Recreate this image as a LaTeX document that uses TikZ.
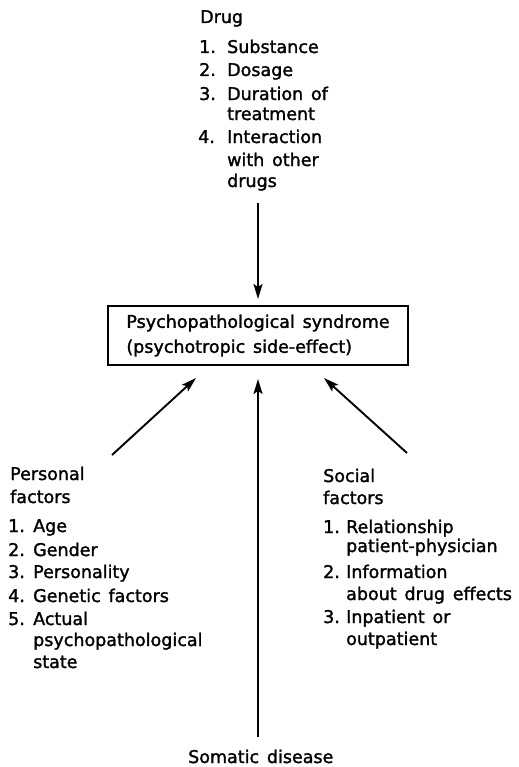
\documentclass[tikz,border=0pt]{standalone}
\usepackage{fontspec}
\setmainfont[FakeBold=1.6,WordSpace=1.4]{DejaVu Sans}
\usetikzlibrary{arrows.meta}
\begin{document}
\begin{tikzpicture}[x=1bp,y=-1bp,
  lbl/.style={anchor=base west,inner sep=0pt,font=\fontsize{17.5bp}{20bp}\selectfont},
  arr/.style={line width=1.9bp,-{Stealth[length=15bp,width=9bp,inset=3bp]}},
  synbox/.style={draw,line width=2bp,minimum width=300bp,minimum height=59bp,inner sep=0pt,align=left,font=\fontsize{17.5bp}{25bp}\selectfont}]
\useasboundingbox (0,0) rectangle (519,767);

% Drug
\node[lbl] (drug) at (200,23) {Drug};
\node[lbl] (d1n) at (199,53) {1.};
\node[lbl] (d1) at (227,53) {Substance};
\node[lbl] (d2n) at (199,76) {2.};
\node[lbl] (d2) at (227,76) {Dosage};
\node[lbl] (d3n) at (199,100) {3.};
\node[lbl] (d3) at (227,100) {Duration of};
\node[lbl] (d3b) at (227,120) {treatment};
\node[lbl] (d4n) at (198,143) {4.};
\node[lbl] (d4) at (227,143) {Interaction};
\node[lbl] (d4b) at (227,166) {with other};
\node[lbl] (d4c) at (227,187) {drugs};

% Box
\node[synbox] (syn) at (258,335.5) {Psychopathological syndrome\\(psychotropic side-effect)};

% Personal
\node[lbl] (pers) at (10,480) {Personal};
\node[lbl] (persb) at (10,503) {factors};
\node[lbl] (p1n) at (8,532) {1.};
\node[lbl] (p1) at (33,532) {Age};
\node[lbl] (p2n) at (8,556) {2.};
\node[lbl] (p2) at (33,556) {Gender};
\node[lbl] (p3n) at (8,578) {3.};
\node[lbl] (p3) at (33,578) {Personality};
\node[lbl] (p4n) at (8,602) {4.};
\node[lbl] (p4) at (33,602) {Genetic factors};
\node[lbl] (p5n) at (8,625) {5.};
\node[lbl] (p5) at (33,625) {Actual};
\node[lbl] (p5b) at (33,646) {psychopathological};
\node[lbl] (p5c) at (33,668) {state};

% Social
\node[lbl] (soc) at (323,482) {Social};
\node[lbl] (socb) at (323,504) {factors};
\node[lbl] (s1n) at (323,533) {1.};
\node[lbl] (s1) at (346,533) {Relationship};
\node[lbl] (s1b) at (346,552) {patient-physician};
\node[lbl] (s2n) at (323,578) {2.};
\node[lbl] (s2) at (346,578) {Information};
\node[lbl] (s2b) at (346,600) {about drug effects};
\node[lbl] (s3n) at (323,623) {3.};
\node[lbl] (s3) at (346,623) {Inpatient or};
\node[lbl] (s3b) at (346,645) {outpatient};

% Somatic
\node[lbl] (som) at (188,763) {Somatic disease};

% Arrow ends
\coordinate (drugTail) at (258,203);
\coordinate (persTail) at (112,455);
\coordinate (persTip) at (196,378);
\coordinate (socTail) at (407,453);
\coordinate (socTip) at (324,378);
\coordinate (somTail) at (258,737);
\coordinate (somTip) at (258,379);

\draw[arr,shorten >=6bp] (drugTail) -- (syn.north);
\draw[arr] (persTail) -- (persTip);
\draw[arr] (socTail) -- (socTip);
\draw[arr] (somTail) -- (somTip);
\end{tikzpicture}
\end{document}
